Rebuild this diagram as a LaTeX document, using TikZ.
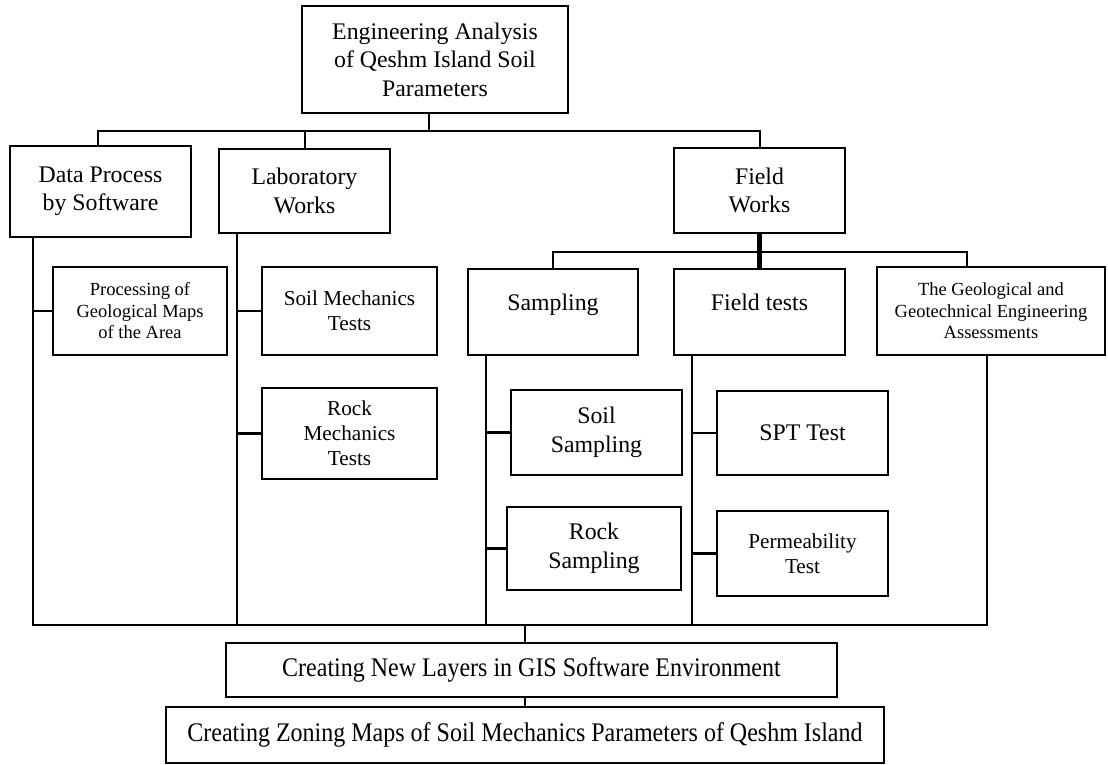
\documentclass[tikz,border=0pt]{standalone}
\usepackage{fontspec}
\usepackage{graphicx}
\setmainfont{Liberation Serif}
\newcommand\fbig{\fontsize{23.8}{28.5}\selectfont}
\newcommand\fmed{\fontsize{21.2}{25}\selectfont}
\newcommand\fsml{\fontsize{18.5}{21.5}\selectfont}
\newcommand\fbot{\fontsize{24}{28}\selectfont}
\tikzset{
  box/.style={draw, line width=2.9pt, inner sep=0pt, outer sep=0pt, align=center, font=\fbig},
  medbox/.style={box, font=\fmed},
  smlbox/.style={box, font=\fsml},
  botbox/.style={box, line width=2.2pt, font=\fbot},
  upper/.style={text height=16pt, text depth=19pt},
  conn/.style={line width=2.1pt, line cap=rect},
  heavyconn/.style={line width=2.8pt, line cap=rect},
  thickconn/.style={line width=5pt},
}
\begin{document}
\begin{tikzpicture}[x=1pt, y=-1pt]
\useasboundingbox (0,0) rectangle (1108,764);
% level 0
\node[box, minimum width=266pt, minimum height=107pt] (root) at (435,59.5) {Engineering Analysis\\of Qeshm Island Soil\\Parameters};
% level 1
\node[box, minimum width=181pt, minimum height=91pt] (data) at (100.5,191.5) {Data Process\\by Software};
\node[box, minimum width=171pt, minimum height=84pt] (lab) at (304.5,191) {Laboratory\\Works};
\node[box, minimum width=171pt, minimum height=85pt] (field) at (759.5,190.5) {Field\\Works};
% level 2
\node[smlbox, minimum width=174pt, minimum height=88pt] (proc) at (140,311) {Processing of\\Geological Maps\\of the Area};
\node[medbox, minimum width=175pt, minimum height=88pt] (soilm) at (349.5,311) {Soil Mechanics\\Tests};
\node[box, upper, minimum width=170pt, minimum height=86pt] (samp) at (553,312) {Sampling};
\node[box, upper, minimum width=171pt, minimum height=86pt] (ftests) at (759.5,312) {Field tests};
\node[smlbox, minimum width=228pt, minimum height=88pt] (geo) at (991,311) {The Geological and\\Geotechnical Engineering\\Assessments};
% level 3
\node[medbox, minimum width=175pt, minimum height=91pt] (rockm) at (349.5,433.5) {Rock\\Mechanics\\Tests};
\node[box, minimum width=171pt, minimum height=85pt] (soils) at (596.5,432.5) {Soil\\Sampling};
\node[box, minimum width=174pt, minimum height=83pt] (rocks) at (594,548.5) {Rock\\Sampling};
\node[box, minimum width=171pt, minimum height=84pt] (spt) at (802.5,433) {SPT Test};
\node[medbox, minimum width=171pt, minimum height=85pt] (perm) at (802.5,553.5) {Permeability\\Test};
% bottom
\node[botbox, minimum width=611pt, minimum height=54pt] (gis) at (531.5,670) {\scalebox{1}[1.12]{Creating New Layers in GIS Software Environment}};
\node[botbox, minimum width=718pt, minimum height=56pt] (zon) at (525,735) {\scalebox{1}[1.12]{Creating Zoning Maps of Soil Mechanics Parameters of Qeshm Island}};
% bus coordinates
\coordinate (tbL) at (98,131);
\coordinate (tbM) at (429,131);
\coordinate (tbLab) at (305,131);
\coordinate (tbR) at (760,131);
\coordinate (fbL) at (553,252);
\coordinate (fbR) at (967,252);
\coordinate (dB) at (33,625);
\coordinate (lB) at (237,625);
\coordinate (sB) at (486,625);
\coordinate (tB) at (692,625);
\coordinate (gB) at (987,625);
\coordinate (bM) at (525,625);
\coordinate (lMid) at (237,435);
\coordinate (dMid) at (33,330);
% top connectors
\draw[heavyconn] (tbM |- root.south) -- (tbM);
\draw[conn] (data.north -| tbL) -- (tbL) -- (tbR) -- (tbR |- field.north);
\draw[heavyconn] (tbLab) -- (tbLab |- lab.north);
% data process branch
\draw[heavyconn] (dB |- data.south) -- (dMid);
\draw[conn] (dMid) -- (dB);
\draw[heavyconn] (dB |- proc.west) -- (proc.west);
% laboratory branch
\draw[heavyconn] (lB |- lab.south) -- (lMid);
\draw[conn] (lMid) -- (lB);
\draw[heavyconn] (lB |- soilm.west) -- (soilm.west);
\draw[conn] (lB |- rockm.west) -- (rockm.west);
% field works
\draw[thickconn] (field.south) -- (ftests.north);
\draw[conn] (samp.north -| fbL) -- (fbL) -- (fbR) -- (fbR |- geo.north);
% sampling branch
\draw[heavyconn] (sB |- samp.south) -- (sB);
\draw[conn] (sB |- soils.west) -- (soils.west);
\draw[conn] (sB |- rocks.west) -- (rocks.west);
% field tests branch
\draw[heavyconn] (tB |- ftests.south) -- (tB);
\draw[conn] (tB |- spt.west) -- (spt.west);
\draw[conn] (tB |- perm.west) -- (perm.west);
% geological branch
\draw[heavyconn] (gB |- geo.south) -- (gB);
% bottom bus
\draw[conn] (dB) -- (gB);
\draw[conn] (bM) -- (bM |- gis.north);
\draw[conn] (bM |- gis.south) -- (bM |- zon.north);
\end{tikzpicture}
\end{document}
